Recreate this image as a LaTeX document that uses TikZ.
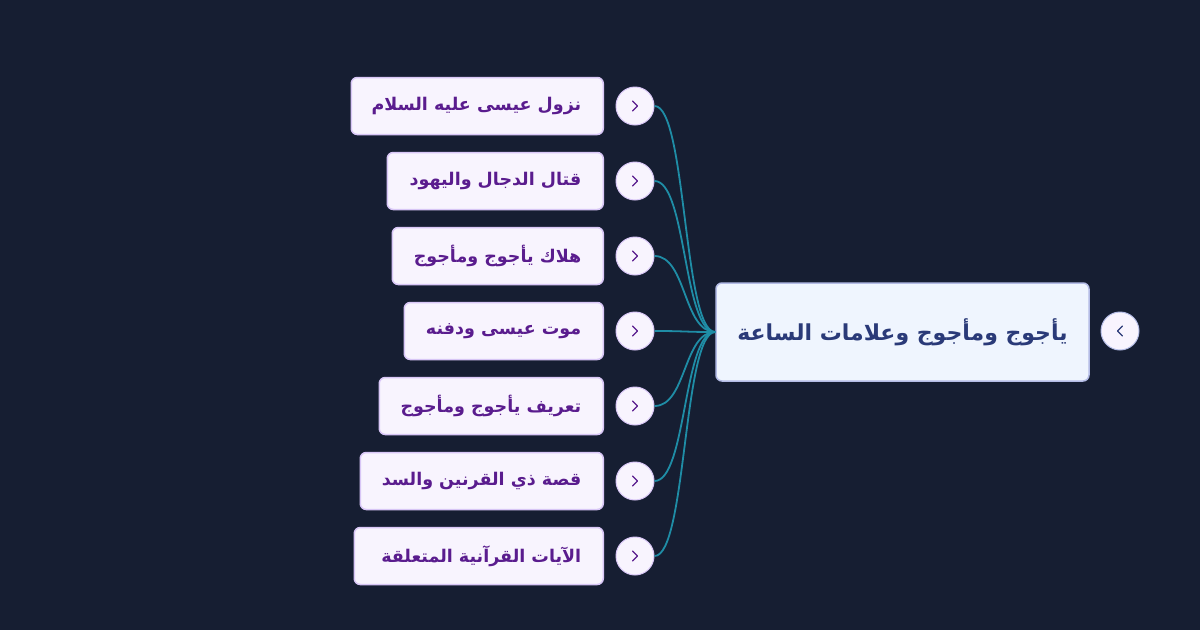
\documentclass[tikz,border=0pt]{standalone}
\usepackage{fontspec}
\TeXXeTstate=1
\newfontfamily\arabicfont[Script=Arabic]{DejaVu Sans}
\definecolor{bgc}{HTML}{161E32}
\definecolor{rootfill}{HTML}{EFF5FE}
\definecolor{rootdraw}{HTML}{B4BCE6}
\definecolor{roottext}{HTML}{2A3A78}
\definecolor{kidfill}{HTML}{F8F4FE}
\definecolor{kiddraw}{HTML}{D8C6F6}
\definecolor{kidtext}{HTML}{5A1C8E}
\definecolor{linkc}{HTML}{1F8DA6}
\tikzset{
  rootbox/.style={draw=rootdraw, line width=1.5pt, fill=rootfill, rounded corners=6pt,
    minimum width=373pt, minimum height=98pt, text=roottext, font=\arabicfont\bfseries\fontsize{22}{26}\selectfont},
  kidbox/.style={draw=kiddraw, line width=1.5pt, fill=kidfill, rounded corners=6pt,
    minimum height=57pt, inner xsep=0pt, anchor=east, text=kidtext, font=\arabicfont\bfseries\fontsize{17.5}{21}\selectfont},
  knob/.style={circle, draw=kiddraw, line width=1pt, fill=kidfill, minimum size=38pt, inner sep=0pt},
  rknob/.style={circle, draw=rootdraw, line width=1pt, fill=kidfill, minimum size=38pt, inner sep=0pt},
  link/.style={draw=linkc, line width=1.8pt},
  chev/.style={line width=1.3pt, line cap=round, line join=round},
}
\begin{document}
\begin{tikzpicture}[x=1pt,y=-1pt]
\fill[bgc] (0,0) rectangle (1200,630);
\useasboundingbox (0,0) rectangle (1200,630);

\node[rootbox] (root) at (902.5,332) {\beginR يأجوج ومأجوج وعلامات الساعة\endR};
\node[rknob] (rk) at (1120,331) {};
\draw[chev, roottext] ([xshift=2.5pt,yshift=-5pt]rk.center) -- ([xshift=-2.5pt]rk.center) -- ([xshift=2.5pt,yshift=5pt]rk.center);

\foreach \i/\y/\l/\t in {
  1/106/352/{نزول عيسى عليه السلام},
  2/181/388/{قتال الدجال واليهود},
  3/256/393/{هلاك يأجوج ومأجوج},
  4/331/405/{موت عيسى ودفنه},
  5/406/380/{تعريف يأجوج ومأجوج},
  6/481/361/{قصة ذي القرنين والسد},
  7/556/355/{الآيات القرآنية المتعلقة}}{
  \pgfmathsetmacro{\w}{604-\l}
  \pgfmathsetmacro{\tw}{\w-44}
  \node[kidbox, minimum width=\w pt] (c\i) at (604,\y)
    {\makebox[\tw pt][r]{\beginR\t\endR}};
  \node[knob] (k\i) at (635,\y) {};
  \draw[chev, kidtext] ([xshift=-2.5pt,yshift=-5pt]k\i.center) -- ([xshift=2.5pt]k\i.center) -- ([xshift=-2.5pt,yshift=5pt]k\i.center);
  \draw[link] (k\i.east) .. controls ([xshift=32pt]k\i.east) and ([xshift=-32pt]root.west) .. (root.west);
}
\end{tikzpicture}
\end{document}
